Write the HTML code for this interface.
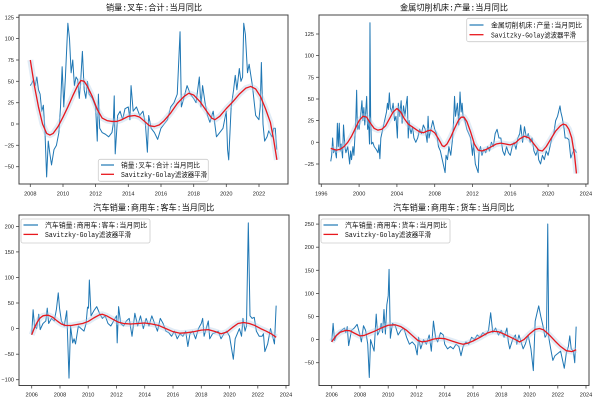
<!DOCTYPE html>
<html><head><meta charset="utf-8"><style>
html,body{margin:0;padding:0;background:#fff;}
svg{display:block;}
.tk{font-family:"Liberation Sans",sans-serif;font-size:5.6px;fill:#222;}
.ti{font-family:"Liberation Mono","Noto Sans CJK SC",monospace;font-size:8.3px;fill:#111;}
.lg{font-family:"Liberation Mono","Noto Sans CJK SC",monospace;font-size:6.9px;fill:#111;}
.ax{fill:none;stroke:#444;stroke-width:1;}
.tm{stroke:#444;stroke-width:0.8;}
.bl{fill:none;stroke:#1f77b4;stroke-width:1;stroke-linejoin:round;}
.bd{fill:none;stroke:#b3cfe9;stroke-width:6;stroke-opacity:0.4;stroke-linejoin:round;stroke-linecap:butt;}
.rd{fill:none;stroke:#e8181e;stroke-width:1.3;stroke-linejoin:round;}
.lb{fill:#fff;fill-opacity:0.85;stroke:#ccc;stroke-width:0.8;}
</style></head><body>
<svg width="600" height="403" viewBox="0 0 600 403" xmlns="http://www.w3.org/2000/svg">
<rect width="600" height="403" fill="#fff"/>

<!-- ===== Panel 1 ===== -->
<g transform="matrix(16.33 0 0 -0.8537 30.3 124)">
<polyline class="bl" vector-effect="non-scaling-stroke" points="0,45 0.1,48 0.2,52 0.3,45 0.4,55 0.5,40 0.6,35 0.7,15 0.8,22 0.9,-10 1.0,-62 1.1,-20 1.2,-35 1.3,-48 1.45,-30 1.6,-25 1.75,-10 1.85,20 1.95,67 2.05,20 2.15,55 2.3,118 2.4,100 2.5,60 2.6,75 2.7,45 2.8,55 2.9,52 3.0,30 3.1,55 3.19,85 3.3,40 3.4,30 3.5,50 3.6,35 3.8,30 4.0,20 4.1,-20 4.17,35 4.25,-5 4.4,-10 4.6,-12 4.8,-15 5.0,-10 5.08,0 5.14,33 5.2,-35 5.35,10 5.5,15 5.65,5 5.8,18 6.0,20 6.1,5 6.17,45 6.3,15 6.5,20 6.7,10 6.9,15 7.05,0 7.17,-33 7.25,10 7.4,-5 7.6,-10 7.8,-18 8.0,-5 8.2,0 8.4,5 8.6,20 8.8,25 9.0,35 9.17,108 9.25,20 9.4,30 9.6,45 9.8,35 10.0,30 10.15,25 10.35,55 10.45,20 10.55,45 10.7,25 10.85,10 11.0,2 11.2,15 11.4,-15 11.6,-10 11.8,-5 12.0,15 12.08,-30 12.15,-42 12.3,20 12.45,40 12.55,57 12.65,40 12.8,65 12.9,50 13.0,55 13.07,118 13.17,105 13.3,60 13.4,70 13.6,45 13.8,10 14.0,5 14.08,20 14.15,72 14.25,0 14.35,-20 14.5,-15 14.6,-8 14.8,-15 14.9,-5 15.0,-5 15.09,-30"/>
<polyline class="bd" vector-effect="non-scaling-stroke" points="0,75 0.25,45 0.5,20 0.75,0 1.0,-11 1.2,-13 1.4,-11 1.7,-3 2.0,8 2.3,20 2.6,33 2.9,45 3.1,51 3.3,50 3.5,44 3.8,32 4.1,17 4.4,7 4.7,4 5.0,3 5.3,3 5.6,5 6.0,9 6.4,10 6.7,8 7.0,3 7.3,-2 7.6,-3 7.9,-1 8.2,4 8.6,13 9.0,24 9.4,32 9.7,36 10.0,34 10.4,26 10.8,15 11.1,7 11.3,5 11.6,9 12.0,18 12.4,26 12.8,35 13.2,42 13.5,44 13.8,41 14.1,32 14.4,18 14.7,2 14.9,-18 15.1,-42"/>
<polyline class="rd" vector-effect="non-scaling-stroke" points="0,75 0.25,45 0.5,20 0.75,0 1.0,-11 1.2,-13 1.4,-11 1.7,-3 2.0,8 2.3,20 2.6,33 2.9,45 3.1,51 3.3,50 3.5,44 3.8,32 4.1,17 4.4,7 4.7,4 5.0,3 5.3,3 5.6,5 6.0,9 6.4,10 6.7,8 7.0,3 7.3,-2 7.6,-3 7.9,-1 8.2,4 8.6,13 9.0,24 9.4,32 9.7,36 10.0,34 10.4,26 10.8,15 11.1,7 11.3,5 11.6,9 12.0,18 12.4,26 12.8,35 13.2,42 13.5,44 13.8,41 14.1,32 14.4,18 14.7,2 14.9,-18 15.1,-42"/>
</g>
<rect class="ax" x="19" y="15" width="269" height="169"/>
<g class="tm">
<line x1="16" x2="19" y1="17.3" y2="17.3"/><line x1="16" x2="19" y1="38.6" y2="38.6"/><line x1="16" x2="19" y1="60" y2="60"/><line x1="16" x2="19" y1="81.3" y2="81.3"/><line x1="16" x2="19" y1="102.7" y2="102.7"/><line x1="16" x2="19" y1="124" y2="124"/><line x1="16" x2="19" y1="145.3" y2="145.3"/><line x1="16" x2="19" y1="166.7" y2="166.7"/>
<line x1="30.3" x2="30.3" y1="184" y2="187"/><line x1="63" x2="63" y1="184" y2="187"/><line x1="95.6" x2="95.6" y1="184" y2="187"/><line x1="128.3" x2="128.3" y1="184" y2="187"/><line x1="161" x2="161" y1="184" y2="187"/><line x1="193.7" x2="193.7" y1="184" y2="187"/><line x1="226.3" x2="226.3" y1="184" y2="187"/><line x1="259" x2="259" y1="184" y2="187"/>
</g>
<g class="tk" text-anchor="end">
<text x="14" y="19.3">125</text><text x="14" y="40.6">100</text><text x="14" y="62">75</text><text x="14" y="83.3">50</text><text x="14" y="104.7">25</text><text x="14" y="126">0</text><text x="14" y="147.3">−25</text><text x="14" y="168.7">−50</text>
</g>
<g class="tk" text-anchor="middle">
<text x="30.3" y="195.3">2008</text><text x="63" y="195.3">2010</text><text x="95.6" y="195.3">2012</text><text x="128.3" y="195.3">2014</text><text x="161" y="195.3">2016</text><text x="193.7" y="195.3">2018</text><text x="226.3" y="195.3">2020</text><text x="259" y="195.3">2022</text>
</g>
<text class="ti" x="106" y="10.5" textLength="96" lengthAdjust="spacingAndGlyphs">销量:叉车:合计:当月同比</text>
<rect class="lb" x="98.3" y="159.3" width="110" height="22" rx="2"/>
<line x1="101" x2="114" y1="165" y2="165" stroke="#1f77b4" stroke-width="1.2"/>
<line x1="101" x2="114" y1="174.3" y2="174.3" stroke="#e8181e" stroke-width="1.3"/>
<text class="lg" x="121" y="167.6" textLength="79" lengthAdjust="spacingAndGlyphs">销量:叉车:合计:当月同比</text>
<text class="lg" x="121" y="177" textLength="86" lengthAdjust="spacingAndGlyphs">Savitzky-Golay滤波器平滑</text>

<!-- ===== Panel 2 ===== -->
<g transform="matrix(9.45 0 0 -0.8667 321.3 142.3)">
<polyline class="bl" vector-effect="non-scaling-stroke" points="1.0,-22 1.1,-15 1.2,5 1.3,-12 1.45,-8 1.6,-18 1.7,22 1.8,-5 1.9,22 2.0,-10 2.1,-2 2.25,-18 2.35,20 2.5,-5 2.6,-12 2.8,-5 3.0,-25 3.1,-10 3.2,-20 3.35,-5 3.45,-15 3.55,5 3.65,25 3.74,60 3.82,15 3.9,20 4.0,15 4.1,25 4.2,35 4.3,48 4.4,25 4.5,40 4.6,20 4.7,35 4.8,53 4.9,15 5.0,25 5.1,-2 5.15,138 5.22,30 5.3,-2 5.45,0 5.6,-5 5.8,-8 6.0,-12 6.1,-3 6.2,-19 6.3,5 6.4,10 6.5,15 6.7,25 6.9,35 7.0,45 7.1,38 7.2,57 7.3,40 7.45,35 7.6,45 7.75,25 7.9,30 8.05,5 8.15,45 8.3,30 8.45,48 8.55,22 8.7,42 8.85,30 9.0,45 9.1,53 9.2,5 9.3,25 9.4,15 9.5,10 9.65,18 9.8,5 10.0,0 10.2,5 10.4,15 10.6,10 10.8,20 11.0,15 11.2,0 11.3,30 11.4,5 11.6,15 11.8,25 12.0,15 12.2,10 12.4,-5 12.6,-10 12.8,-20 13.1,-35 13.2,-15 13.35,-20 13.5,-5 13.7,-15 13.9,5 14.0,25 14.1,53 14.2,30 14.4,45 14.55,20 14.68,58 14.8,35 14.9,45 15.0,30 15.2,25 15.4,15 15.6,10 15.8,5 16.0,-15 16.1,0 16.3,-25 16.6,-35 16.7,-10 16.85,-5 17.0,-15 17.2,-8 17.4,-12 17.6,-5 17.8,-10 18.0,0 18.2,-5 18.4,10 18.6,15 18.8,5 19.0,5 19.2,-10 19.4,-15 19.6,-5 19.8,-12 20.0,-15 20.2,-5 20.4,0 20.6,-8 20.8,5 21.0,10 21.1,20 21.3,0 21.5,18 21.7,5 21.9,10 22.1,0 22.3,5 22.5,-10 22.7,-15 22.9,-8 23.0,-20 23.2,-25 23.4,-15 23.6,-20 23.8,-10 24.0,-15 24.2,-5 24.4,5 24.6,10 24.8,25 25.0,30 25.26,42 25.35,35 25.5,28 25.7,15 25.8,5 26.0,5 26.2,3 26.4,-18 26.6,-12 26.8,-8 27.0,-12"/>
<polyline class="bd" vector-effect="non-scaling-stroke" points="1.0,-7 1.3,-8 1.6,-9 2.0,-8 2.4,-5 2.8,0 3.2,7 3.6,16 4.0,25 4.4,30 4.8,29 5.2,22 5.6,16 6.0,14 6.4,15 6.8,19 7.2,27 7.6,35 8.0,39 8.4,35 8.8,27 9.2,21 9.6,18 10.0,15 10.4,12 10.8,11 11.2,13 11.6,14 12.0,11 12.4,4 12.8,-4 13.0,-5 13.3,-2 13.7,6 14.1,16 14.5,25 14.8,29 15.1,29 15.4,24 15.8,12 16.2,-2 16.6,-9 17.0,-10 17.5,-8 18.0,-5 18.5,-2 19.0,-1 19.5,-2 20.0,-3 20.5,-1 21.0,4 21.5,7 22.0,5 22.5,-2 23.0,-9 23.4,-10 23.8,-5 24.3,4 24.8,13 25.3,19 25.6,21 25.9,20 26.2,15 26.5,5 26.8,-15 27.0,-36"/>
<polyline class="rd" vector-effect="non-scaling-stroke" points="1.0,-7 1.3,-8 1.6,-9 2.0,-8 2.4,-5 2.8,0 3.2,7 3.6,16 4.0,25 4.4,30 4.8,29 5.2,22 5.6,16 6.0,14 6.4,15 6.8,19 7.2,27 7.6,35 8.0,39 8.4,35 8.8,27 9.2,21 9.6,18 10.0,15 10.4,12 10.8,11 11.2,13 11.6,14 12.0,11 12.4,4 12.8,-4 13.0,-5 13.3,-2 13.7,6 14.1,16 14.5,25 14.8,29 15.1,29 15.4,24 15.8,12 16.2,-2 16.6,-9 17.0,-10 17.5,-8 18.0,-5 18.5,-2 19.0,-1 19.5,-2 20.0,-3 20.5,-1 21.0,4 21.5,7 22.0,5 22.5,-2 23.0,-9 23.4,-10 23.8,-5 24.3,4 24.8,13 25.3,19 25.6,21 25.9,20 26.2,15 26.5,5 26.8,-15 27.0,-36"/>
</g>
<rect class="ax" x="319" y="15" width="269" height="169"/>
<g class="tm">
<line x1="316" x2="319" y1="34" y2="34"/><line x1="316" x2="319" y1="55.6" y2="55.6"/><line x1="316" x2="319" y1="77.3" y2="77.3"/><line x1="316" x2="319" y1="99" y2="99"/><line x1="316" x2="319" y1="120.6" y2="120.6"/><line x1="316" x2="319" y1="142.3" y2="142.3"/><line x1="316" x2="319" y1="164" y2="164"/>
<line x1="321.3" x2="321.3" y1="184" y2="187"/><line x1="359.1" x2="359.1" y1="184" y2="187"/><line x1="396.9" x2="396.9" y1="184" y2="187"/><line x1="434.7" x2="434.7" y1="184" y2="187"/><line x1="472.5" x2="472.5" y1="184" y2="187"/><line x1="510.3" x2="510.3" y1="184" y2="187"/><line x1="548.1" x2="548.1" y1="184" y2="187"/><line x1="585.9" x2="585.9" y1="184" y2="187"/>
</g>
<g class="tk" text-anchor="end">
<text x="314" y="36">125</text><text x="314" y="57.6">100</text><text x="314" y="79.3">75</text><text x="314" y="101">50</text><text x="314" y="122.6">25</text><text x="314" y="144.3">0</text><text x="314" y="166">−25</text>
</g>
<g class="tk" text-anchor="middle">
<text x="321.3" y="195.3">1996</text><text x="359.1" y="195.3">2000</text><text x="396.9" y="195.3">2004</text><text x="434.7" y="195.3">2008</text><text x="472.5" y="195.3">2012</text><text x="510.3" y="195.3">2016</text><text x="548.1" y="195.3">2020</text><text x="585.9" y="195.3">2024</text>
</g>
<text class="ti" x="400" y="10.5" textLength="108" lengthAdjust="spacingAndGlyphs">金属切削机床:产量:当月同比</text>
<rect class="lb" x="466.7" y="18.3" width="120.5" height="23.4" rx="2"/>
<line x1="469.5" x2="483.5" y1="25" y2="25" stroke="#1f77b4" stroke-width="1.2"/>
<line x1="469.5" x2="483.5" y1="34.7" y2="34.7" stroke="#e8181e" stroke-width="1.3"/>
<text class="lg" x="491" y="27.6" textLength="91" lengthAdjust="spacingAndGlyphs">金属切削机床:产量:当月同比</text>
<text class="lg" x="491" y="37.3" textLength="85" lengthAdjust="spacingAndGlyphs">Savitzky-Golay滤波器平滑</text>

<!-- ===== Panel 3 ===== -->
<g transform="matrix(14.13 0 0 -0.511 31.7 328.6)">
<polyline class="bl" vector-effect="non-scaling-stroke" points="0,-12 0.1,37 0.2,5 0.35,0 0.5,28 0.6,-2 0.8,10 1.0,15 1.1,40 1.2,10 1.4,20 1.6,15 1.75,38 1.88,70 1.97,40 2.1,15 2.3,5 2.48,35 2.64,-97 2.75,5 2.9,-28 3.0,-20 3.1,-30 3.3,5 3.5,0 3.7,-5 3.85,10 3.95,42 4.02,40 4.08,95 4.2,25 4.4,35 4.6,43 4.8,30 5.0,20 5.2,25 5.4,10 5.6,5 5.8,15 6.0,25 6.05,-28 6.15,43 6.3,10 6.5,5 6.7,15 6.9,20 7.1,-15 7.3,30 7.5,5 7.7,25 7.9,0 8.1,20 8.3,5 8.5,25 8.7,10 8.9,-5 9.1,20 9.3,10 9.5,-5 9.7,-8 9.9,-15 10.1,-5 10.3,-20 10.5,-10 10.7,-15 10.9,-5 11.05,-35 11.2,-10 11.4,-5 11.6,-20 11.8,0 12.0,10 12.1,20 12.2,-15 12.4,5 12.5,15 12.6,-20 12.8,-10 13.0,-8 13.2,-5 13.4,-20 13.6,-10 13.8,-5 14.0,-15 14.27,-60 14.4,-20 14.55,-10 14.7,0 14.85,-15 14.95,20 15.1,-5 15.2,5 15.33,207 15.45,25 15.6,20 15.75,22 15.9,-5 16.1,-15 16.3,-15 16.4,-10 16.5,-45 16.7,-30 16.9,0 17.05,-15 17.18,-30 17.3,45"/>
<polyline class="bd" vector-effect="non-scaling-stroke" points="0,-12 0.2,2 0.4,13 0.6,21 0.8,25 1.0,26 1.2,26 1.5,22 1.8,15 2.1,9 2.4,6 2.8,6 3.2,8 3.6,10 4.0,14 4.4,21 4.8,27 5.0,28 5.3,25 5.7,19 6.1,13 6.5,10 7.0,9 7.5,10 8.0,11 8.5,9 9.0,6 9.5,0 10.0,-6 10.5,-9 11.0,-8 11.5,-6 12.0,-3 12.5,-2 13.0,-6 13.4,-10 13.8,-7 14.2,2 14.6,10 15.0,12 15.4,10 15.8,6 16.2,0 16.6,-5 17.0,-11 17.3,-17"/>
<polyline class="rd" vector-effect="non-scaling-stroke" points="0,-12 0.2,2 0.4,13 0.6,21 0.8,25 1.0,26 1.2,26 1.5,22 1.8,15 2.1,9 2.4,6 2.8,6 3.2,8 3.6,10 4.0,14 4.4,21 4.8,27 5.0,28 5.3,25 5.7,19 6.1,13 6.5,10 7.0,9 7.5,10 8.0,11 8.5,9 9.0,6 9.5,0 10.0,-6 10.5,-9 11.0,-8 11.5,-6 12.0,-3 12.5,-2 13.0,-6 13.4,-10 13.8,-7 14.2,2 14.6,10 15.0,12 15.4,10 15.8,6 16.2,0 16.6,-5 17.0,-11 17.3,-17"/>
</g>
<rect class="ax" x="19" y="215" width="270" height="170.5"/>
<g class="tm">
<line x1="16" x2="19" y1="226.4" y2="226.4"/><line x1="16" x2="19" y1="251.9" y2="251.9"/><line x1="16" x2="19" y1="277.5" y2="277.5"/><line x1="16" x2="19" y1="303" y2="303"/><line x1="16" x2="19" y1="328.6" y2="328.6"/><line x1="16" x2="19" y1="354.2" y2="354.2"/><line x1="16" x2="19" y1="379.7" y2="379.7"/>
<line x1="31.7" x2="31.7" y1="385.5" y2="388.5"/><line x1="60" x2="60" y1="385.5" y2="388.5"/><line x1="88.2" x2="88.2" y1="385.5" y2="388.5"/><line x1="116.5" x2="116.5" y1="385.5" y2="388.5"/><line x1="144.7" x2="144.7" y1="385.5" y2="388.5"/><line x1="173" x2="173" y1="385.5" y2="388.5"/><line x1="201.3" x2="201.3" y1="385.5" y2="388.5"/><line x1="229.5" x2="229.5" y1="385.5" y2="388.5"/><line x1="257.8" x2="257.8" y1="385.5" y2="388.5"/><line x1="286" x2="286" y1="385.5" y2="388.5"/>
</g>
<g class="tk" text-anchor="end">
<text x="14" y="228.4">200</text><text x="14" y="253.9">150</text><text x="14" y="279.5">100</text><text x="14" y="305">50</text><text x="14" y="330.6">0</text><text x="14" y="356.2">−50</text><text x="14" y="381.7">−100</text>
</g>
<g class="tk" text-anchor="middle">
<text x="31.7" y="396.5">2006</text><text x="60" y="396.5">2008</text><text x="88.2" y="396.5">2010</text><text x="116.5" y="396.5">2012</text><text x="144.7" y="396.5">2014</text><text x="173" y="396.5">2016</text><text x="201.3" y="396.5">2018</text><text x="229.5" y="396.5">2020</text><text x="257.8" y="396.5">2022</text><text x="286" y="396.5">2024</text>
</g>
<text class="ti" x="93.3" y="210.5" textLength="121" lengthAdjust="spacingAndGlyphs">汽车销量:商用车:客车:当月同比</text>
<rect class="lb" x="21" y="219" width="129" height="24" rx="2"/>
<line x1="23.5" x2="38" y1="225" y2="225" stroke="#1f77b4" stroke-width="1.2"/>
<line x1="23.5" x2="38" y1="234.4" y2="234.4" stroke="#e8181e" stroke-width="1.3"/>
<text class="lg" x="45" y="227.6" textLength="102" lengthAdjust="spacingAndGlyphs">汽车销量:商用车:客车:当月同比</text>
<text class="lg" x="45" y="237" textLength="86" lengthAdjust="spacingAndGlyphs">Savitzky-Golay滤波器平滑</text>

<!-- ===== Panel 4 ===== -->
<g transform="matrix(14.13 0 0 -0.4622 331.7 339.6)">
<polyline class="bl" vector-effect="non-scaling-stroke" points="0,-5 0.1,35 0.2,-2 0.35,10 0.5,15 0.7,20 0.9,25 1.0,15 1.1,28 1.2,-13 1.4,20 1.6,25 1.8,33 2.0,10 2.1,-5 2.25,30 2.4,20 2.55,-10 2.66,-82 2.75,0 2.9,-15 3.0,-25 3.15,55 3.25,10 3.4,20 3.5,35 3.6,15 3.7,65 3.8,12 3.9,75 4.0,95 4.06,152 4.15,3 4.3,35 4.5,30 4.7,10 4.9,20 5.1,25 5.3,5 5.5,-10 5.7,-5 5.9,-12 6.05,-33 6.15,5 6.3,-20 6.5,0 6.7,-10 6.9,10 7.05,-25 7.2,40 7.35,5 7.5,-5 7.7,15 7.9,10 8.0,-10 8.2,-20 8.4,-15 8.6,-20 8.8,-10 9.0,-15 9.15,-35 9.3,-15 9.5,-5 9.7,-10 9.9,5 10.1,0 10.3,10 10.5,5 10.7,15 10.9,10 11.1,20 11.25,58 11.4,15 11.6,25 11.8,10 12.0,20 12.2,5 12.4,25 12.5,-5 12.6,-20 12.8,0 13.0,10 13.1,-10 13.25,10 13.4,-5 13.55,-20 13.7,-10 13.9,10 14.1,-20 14.27,-67 14.4,40 14.55,60 14.65,73 14.8,50 14.95,30 15.1,5 15.2,10 15.29,250 15.36,5 15.5,-20 15.65,-45 15.8,-35 16.0,-30 16.2,-25 16.46,-62 16.6,-30 16.75,-15 16.85,8 16.95,-20 17.1,-25 17.2,-50 17.3,28"/>
<polyline class="bd" vector-effect="non-scaling-stroke" points="0,-5 0.3,8 0.6,16 1.0,20 1.3,19 1.6,14 2.0,8 2.3,9 2.7,14 3.1,19 3.5,25 4.0,31 4.5,32 4.9,28 5.3,20 5.7,9 6.1,-2 6.4,-5 6.8,-3 7.2,1 7.6,3 8.0,2 8.5,-3 9.0,-8 9.3,-10 9.6,-8 10.0,-3 10.5,5 11.0,14 11.4,18 11.8,17 12.2,12 12.6,6 13.0,0 13.3,-5 13.6,0 14.0,12 14.4,22 14.7,24 15.0,21 15.4,10 15.8,-3 16.2,-15 16.6,-24 17.0,-26 17.3,-22"/>
<polyline class="rd" vector-effect="non-scaling-stroke" points="0,-5 0.3,8 0.6,16 1.0,20 1.3,19 1.6,14 2.0,8 2.3,9 2.7,14 3.1,19 3.5,25 4.0,31 4.5,32 4.9,28 5.3,20 5.7,9 6.1,-2 6.4,-5 6.8,-3 7.2,1 7.6,3 8.0,2 8.5,-3 9.0,-8 9.3,-10 9.6,-8 10.0,-3 10.5,5 11.0,14 11.4,18 11.8,17 12.2,12 12.6,6 13.0,0 13.3,-5 13.6,0 14.0,12 14.4,22 14.7,24 15.0,21 15.4,10 15.8,-3 16.2,-15 16.6,-24 17.0,-26 17.3,-22"/>
</g>
<rect class="ax" x="319" y="215" width="270" height="170.5"/>
<g class="tm">
<line x1="316" x2="319" y1="224.1" y2="224.1"/><line x1="316" x2="319" y1="247.2" y2="247.2"/><line x1="316" x2="319" y1="270.3" y2="270.3"/><line x1="316" x2="319" y1="293.4" y2="293.4"/><line x1="316" x2="319" y1="316.5" y2="316.5"/><line x1="316" x2="319" y1="339.6" y2="339.6"/><line x1="316" x2="319" y1="362.7" y2="362.7"/>
<line x1="331.7" x2="331.7" y1="385.5" y2="388.5"/><line x1="360" x2="360" y1="385.5" y2="388.5"/><line x1="388.2" x2="388.2" y1="385.5" y2="388.5"/><line x1="416.5" x2="416.5" y1="385.5" y2="388.5"/><line x1="444.7" x2="444.7" y1="385.5" y2="388.5"/><line x1="473" x2="473" y1="385.5" y2="388.5"/><line x1="501.3" x2="501.3" y1="385.5" y2="388.5"/><line x1="529.5" x2="529.5" y1="385.5" y2="388.5"/><line x1="557.8" x2="557.8" y1="385.5" y2="388.5"/><line x1="586" x2="586" y1="385.5" y2="388.5"/>
</g>
<g class="tk" text-anchor="end">
<text x="314" y="226.1">250</text><text x="314" y="249.2">200</text><text x="314" y="272.3">150</text><text x="314" y="295.4">100</text><text x="314" y="318.5">50</text><text x="314" y="341.6">0</text><text x="314" y="364.7">−50</text>
</g>
<g class="tk" text-anchor="middle">
<text x="331.7" y="396.5">2006</text><text x="360" y="396.5">2008</text><text x="388.2" y="396.5">2010</text><text x="416.5" y="396.5">2012</text><text x="444.7" y="396.5">2014</text><text x="473" y="396.5">2016</text><text x="501.3" y="396.5">2018</text><text x="529.5" y="396.5">2020</text><text x="557.8" y="396.5">2022</text><text x="586" y="396.5">2024</text>
</g>
<text class="ti" x="393.3" y="210.5" textLength="121" lengthAdjust="spacingAndGlyphs">汽车销量:商用车:货车:当月同比</text>
<rect class="lb" x="321" y="219" width="129" height="24" rx="2"/>
<line x1="323.5" x2="338" y1="225" y2="225" stroke="#1f77b4" stroke-width="1.2"/>
<line x1="323.5" x2="338" y1="234.4" y2="234.4" stroke="#e8181e" stroke-width="1.3"/>
<text class="lg" x="345" y="227.6" textLength="102" lengthAdjust="spacingAndGlyphs">汽车销量:商用车:货车:当月同比</text>
<text class="lg" x="345" y="237" textLength="86" lengthAdjust="spacingAndGlyphs">Savitzky-Golay滤波器平滑</text>
</svg>
</body></html>
